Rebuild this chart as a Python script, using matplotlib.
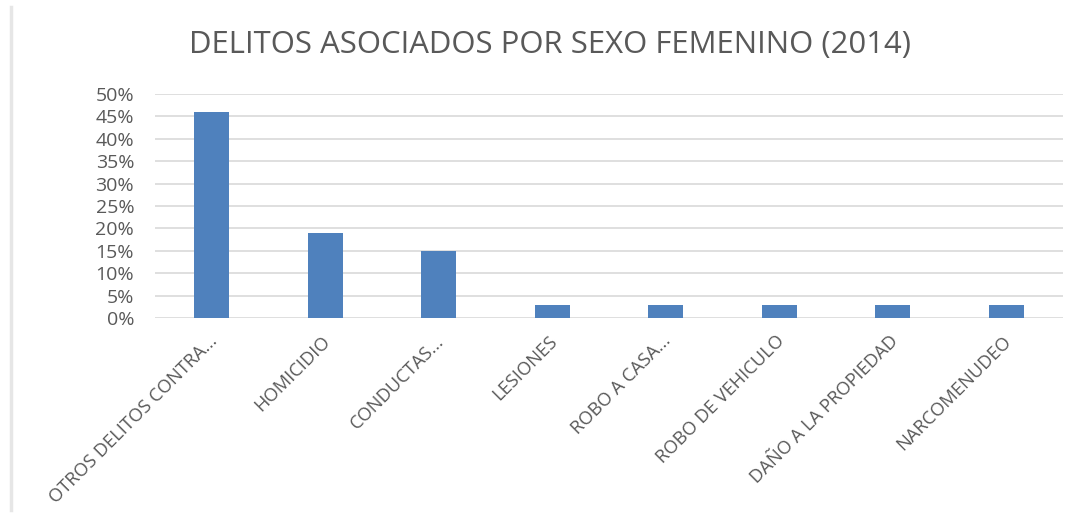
import matplotlib
matplotlib.use("Agg")
import matplotlib.pyplot as plt
from matplotlib.lines import Line2D
from matplotlib.ticker import FuncFormatter, MultipleLocator
from matplotlib.transforms import ScaledTranslation

categories = ["OTROS DELITOS CONTRA...", "HOMICIDIO", "CONDUCTAS...", "LESIONES",
              "ROBO A CASA...", "ROBO DE VEHICULO", "DAÑO A LA PROPIEDAD", "NARCOMENUDEO"]
values = [0.46, 0.19, 0.15, 0.03, 0.03, 0.03, 0.03, 0.03]
title = "DELITOS ASOCIADOS POR SEXO FEMENINO (2014)"

plt.rcParams['font.family'] = ['Open Sans', 'DejaVu Sans']
gray = "#595959"

fig = plt.figure(figsize=(10.76, 5.17), dpi=100)
ax = fig.add_axes([155/1076, 1-318/517, (1063-155)/1076, (318-94)/517])

x = range(len(categories))
ax.bar(x, values, width=0.31, color="#4F81BD", zorder=3)
ax.set_xlim(-0.5, len(categories)-0.5)
ax.set_ylim(0, 0.5)
ax.yaxis.set_major_locator(MultipleLocator(0.05))
ax.yaxis.set_major_formatter(FuncFormatter(lambda v, p: f"{v*100:.0f}%"))
ax.grid(axis='y', color="#D9D9D9", linewidth=1.2, zorder=0)
for s in ax.spines.values():
    s.set_visible(False)
ax.tick_params(axis='both', length=0, colors=gray)
ax.tick_params(axis='y', pad=15, labelsize=14)
ax.set_xticks(list(x))
ax.set_xticklabels(categories, rotation=45, ha='right', rotation_mode='anchor')
ax.tick_params(axis='x', pad=10, labelsize=13.2)
for lbl in ax.get_xticklabels():
    lbl.set_transform(lbl.get_transform() + ScaledTranslation(-4/100, 0, fig.dpi_scale_trans))

fig.text(0.511, 1-45/517, title, ha='center', va='center', fontsize=22.4, color=gray)

fig.add_artist(Line2D([10.5/1076, 10.5/1076], [1-7/517, 1-510/517], transform=fig.transFigure,
                      color="#E6E6E6", linewidth=2.5))

fig.savefig("out.png", dpi=100, facecolor="white")
